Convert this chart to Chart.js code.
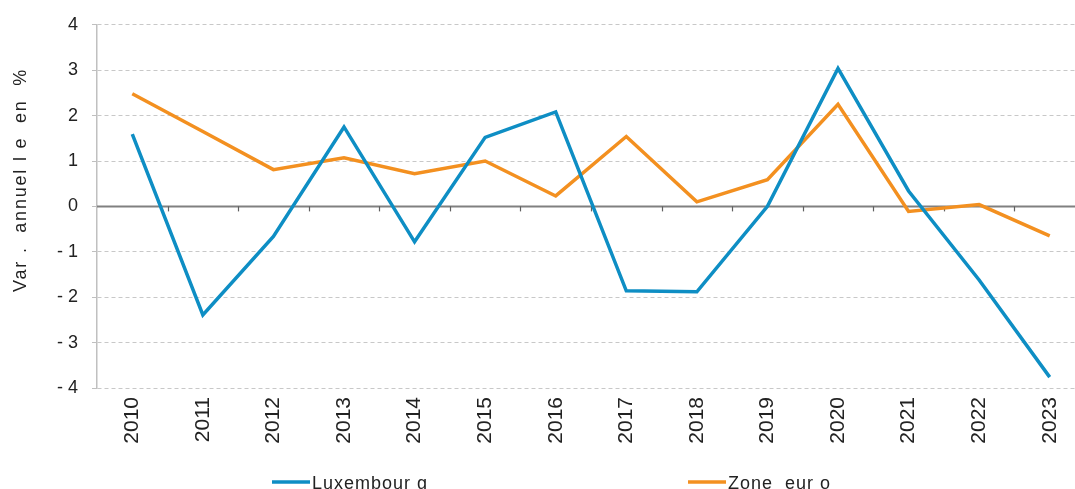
<!DOCTYPE html>
<html>
<head>
<meta charset="utf-8">
<script src="https://cdn.jsdelivr.net/npm/chart.js@4.4.1/dist/chart.umd.min.js"></script>
<style>
  html, body { margin: 0; padding: 0; background: #ffffff; overflow: hidden; }
  #wrap { position: relative; width: 1090px; height: 489px; }
</style>
</head>
<body>
<div id="wrap"><canvas id="c"></canvas></div>
<script>
const years = ['2010','2011','2012','2013','2014','2015','2016','2017','2018','2019','2020','2021','2022','2023'];
const luxembourg = [1.59, -2.39, -0.66, 1.75, -0.78, 1.52, 2.08, -1.86, -1.88, 0.0, 3.04, 0.34, -1.62, -3.76];
const zoneEuro = [2.48, 1.65, 0.81, 1.07, 0.72, 1.0, 0.23, 1.54, 0.1, 0.59, 2.25, -0.11, 0.04, -0.65];
const seriesNames = ['Luxembour g', 'Zone  eur o'];
const yAxisTitle = 'Var .  annuel l e  en  %';

const FONT = '"Liberation Sans", Arial, sans-serif';
const BLUE = '#0e8ec4';
const ORANGE = '#f39020';

const customDraw = {
  id: 'customDraw',
  beforeDatasetsDraw(chart) {
    const ctx = chart.ctx, a = chart.chartArea;
    const x = chart.scales.x, y = chart.scales.y;
    const y0 = y.getPixelForValue(0);
    ctx.save();
    ctx.strokeStyle = '#808080';
    ctx.lineWidth = 2;
    ctx.beginPath();
    ctx.moveTo(a.left, y0);
    ctx.lineTo(a.right, y0);
    ctx.stroke();
    ctx.lineWidth = 1.2;
    ctx.strokeStyle = '#606060';
    for (let i = 0; i < years.length - 1; i++) {
      const px = Math.round((x.getPixelForValue(i) + x.getPixelForValue(i + 1)) / 2) + 0.5;
      ctx.beginPath();
      ctx.moveTo(px, y0);
      ctx.lineTo(px, y0 + 5);
      ctx.stroke();
    }
    ctx.restore();
  },
  afterDraw(chart) {
    const ctx = chart.ctx;
    ctx.save();
    // y axis title
    ctx.font = '18px ' + FONT;
    ctx.letterSpacing = '1.8px';
    ctx.fillStyle = '#222222';
    ctx.textAlign = 'center';
    ctx.textBaseline = 'middle';
    ctx.translate(21, 180);
    ctx.rotate(-Math.PI / 2);
    ctx.fillText(yAxisTitle, 0, 0);
    ctx.restore();
    // legend
    ctx.save();
    const items = [
      { x: 272, color: BLUE, text: seriesNames[0] },
      { x: 688, color: ORANGE, text: seriesNames[1] }
    ];
    ctx.font = '18px ' + FONT;
    ctx.letterSpacing = '1px';
    ctx.fillStyle = '#222222';
    ctx.textBaseline = 'alphabetic';
    ctx.textAlign = 'left';
    items.forEach(it => {
      ctx.strokeStyle = it.color;
      ctx.lineWidth = 3.5;
      ctx.beginPath();
      ctx.moveTo(it.x, 482);
      ctx.lineTo(it.x + 38, 482);
      ctx.stroke();
      ctx.fillText(it.text, it.x + 40, 489);
    });
    ctx.restore();
  }
};

new Chart(document.getElementById('c'), {
  type: 'line',
  data: {
    labels: years,
    datasets: [
      { label: seriesNames[0], data: luxembourg, borderColor: BLUE, backgroundColor: BLUE, borderWidth: 3.5, pointRadius: 0, tension: 0 },
      { label: seriesNames[1], data: zoneEuro, borderColor: ORANGE, backgroundColor: ORANGE, borderWidth: 3.5, pointRadius: 0, tension: 0 }
    ]
  },
  options: {
    responsive: true,
    maintainAspectRatio: false,
    animation: false,
    layout: { padding: { top: 20, right: 5, left: 0, bottom: 0 } },
    plugins: { legend: { display: false }, tooltip: { enabled: false } },
    scales: {
      x: {
        type: 'category',
        offset: true,
        grid: { display: false, drawTicks: false },
        border: { display: false },
        ticks: {
          minRotation: 90, maxRotation: 90, autoSkip: false,
          padding: 9,
          color: '#222222',
          font: { family: FONT, size: 21 }
        },
        afterFit(scale) { scale.height = 101; }
      },
      y: {
        min: -4, max: 4,
        grid: {
          color: '#c8c8c8', lineWidth: 1,
          drawTicks: true, tickLength: 5, tickColor: '#bfbfbf', tickBorderDash: [], tickWidth: 1
        },
        border: { display: true, color: '#c0c0c0', width: 1.5, dash: [4, 3] },
        ticks: {
          stepSize: 1,
          padding: 14,
          color: '#222222',
          font: { family: FONT, size: 18 },
          callback: v => (v < 0 ? '- ' + Math.abs(v) : String(v))
        },
        afterFit(scale) { scale.width = 97; }
      }
    }
  },
  plugins: [customDraw]
});
</script>
</body>
</html>
